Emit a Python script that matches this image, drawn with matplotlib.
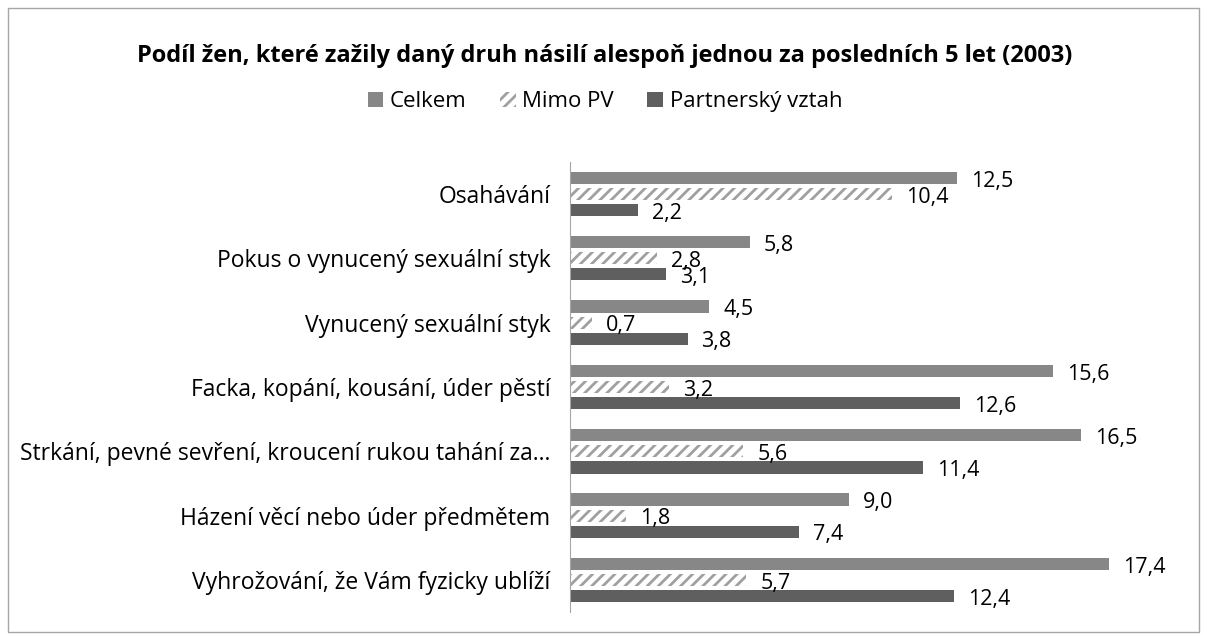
import matplotlib.pyplot as plt
import numpy as np
from matplotlib.patches import Rectangle

plt.rcParams['font.family'] = ['Open Sans', 'DejaVu Sans']
plt.rcParams['hatch.linewidth'] = 2.0

categories = ['Osahávání', 'Pokus o vynucený sexuální styk', 'Vynucený sexuální styk',
              'Facka, kopání, kousání, úder pěstí',
              'Strkání, pevné sevření, kroucení rukou tahání za…',
              'Házení věcí nebo úder předmětem', 'Vyhrožování, že Vám fyzicky ublíží']
celkem = [12.5, 5.8, 4.5, 15.6, 16.5, 9.0, 17.4]
mimo_pv = [10.4, 2.8, 0.7, 3.2, 5.6, 1.8, 5.7]
partner = [2.2, 3.1, 3.8, 12.6, 11.4, 7.4, 12.4]

fig = plt.figure(figsize=(12.1, 6.37), dpi=100)
ax = fig.add_axes([0.471, 0.039, 0.512, 0.707])

y = np.arange(len(categories))
h = 0.19
off = 0.25

b1 = ax.barh(y - off, celkem, height=h, color='#878787', label='Celkem')
b2 = ax.barh(y, mimo_pv, height=h, color='white', edgecolor='#a0a0a0', linewidth=0,
             hatch='///', label='Mimo PV')
b3 = ax.barh(y + off, partner, height=h, color='#5f5f5f', label='Partnerský vztah')

for bars, vals in ((b1, celkem), (b2, mimo_pv), (b3, partner)):
    for bar, v in zip(bars, vals):
        ax.text(v + 0.45, bar.get_y() + bar.get_height() / 2 + 0.05, f'{v:.1f}'.replace('.', ','),
                va='center', ha='left', fontsize=15.5)

ax.set_xlim(0, 20)
ax.set_ylim(len(categories) - 0.5, -0.5)
ax.set_yticks(y)
ax.set_yticklabels(categories, fontsize=16.5)
ax.tick_params(axis='y', length=0, pad=14)
ax.set_xticks([])
for s in ('top', 'right', 'bottom'):
    ax.spines[s].set_visible(False)
ax.spines['left'].set_color('#a6a6a6')

fig.text(0.5, 0.912, 'Podíl žen, které zažily daný druh násilí alespoň jednou za posledních 5 let (2003)',
         ha='center', va='center', fontsize=17, fontweight='bold')
fig.legend(handles=[b1, b2, b3], loc='center', bbox_to_anchor=(0.5, 0.84), ncol=3,
           frameon=False, fontsize=16, handlelength=0.7, handleheight=0.7,
           handletextpad=0.3, columnspacing=1.5)

fig.patches.append(Rectangle((0.007, 0.008), 0.984, 0.979, transform=fig.transFigure,
                             fill=False, edgecolor='#a6a6a6', linewidth=1))

fig.savefig('out.png', dpi=100)
